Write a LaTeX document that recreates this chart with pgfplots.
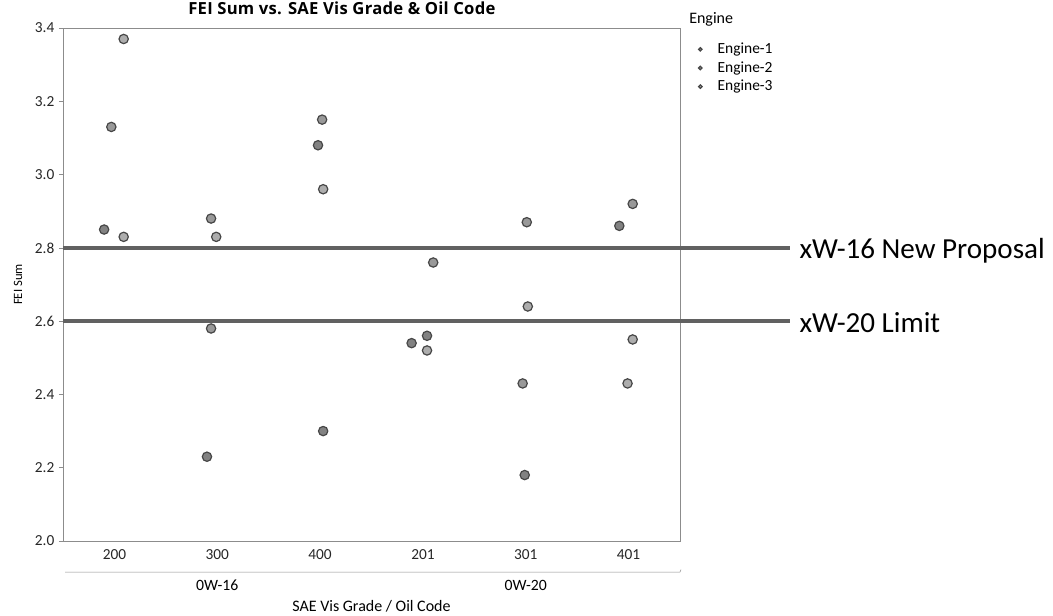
\documentclass[border=0pt]{standalone}
\usepackage{pgfplots}
\pgfplotsset{compat=1.18}
\usepackage{fontspec}
\setmainfont{Carlito}
\newfontfamily\titlefont[LetterSpace=1.5]{Open Sans}

\definecolor{ptfill}{gray}{0.60}
\definecolor{ptedge}{gray}{0.28}
\definecolor{limitline}{gray}{0.38}
\definecolor{frame}{gray}{0.55}

\begin{document}
\begin{tikzpicture}
% 1 px of the reference = 0.75pt
\useasboundingbox (-47.25pt,-55.5pt) rectangle (742.5pt,405.75pt);
\begin{axis}[
  scale only axis,
  width=462.75pt,
  height=384.75pt,
  xmin=-0.5,xmax=5.5,
  ymin=2.0,ymax=3.4,
  ytick={2.0,2.2,2.4,2.6,2.8,3.0,3.2,3.4},
  yticklabel style={/pgf/number format/.cd,fixed,fixed zerofill,precision=1},
  xtick={0,1,2,3,4,5},
  xticklabels={200,300,400,201,301,401},
  /pgf/number format/assume math mode=true,
  tick label style={font=\fontsize{11.5}{13}\selectfont,text=black!85},
  xtick style={draw=none},
  ytick style={draw=frame,thin},
  ytick pos=left,
  tick align=outside,
  major tick length=3pt,
  axis line style={draw=frame,thin},
  clip=false,
  title={\fontsize{12.5}{15}\selectfont\titlefont\bfseries FEI Sum vs. SAE Vis Grade \& Oil Code},
  title style={at={(axis description cs:0.452,1.022)},anchor=center},
  ylabel={FEI Sum},
  ylabel style={at={(axis description cs:-0.073,0.5)},anchor=center,
    font=\fontsize{9.5}{11}\selectfont},
  xlabel={SAE Vis Grade / Oil Code},
  xlabel style={at={(axis description cs:0.5,-0.127)},anchor=center,
    font=\fontsize{12}{14}\selectfont},
  legend style={at={(axis description cs:1.026,0.979)},anchor=north west,
    draw=none,fill=none,font=\fontsize{11.6}{14}\selectfont,
    row sep=0.5pt,inner sep=1pt},
  legend cell align=left,
  legend image code/.code={%
    \path[draw=none,fill=none] (0pt,0pt) -- (13pt,0pt);
    \draw[#1,mark size=1.3pt] plot coordinates {(2pt,0pt)};},
]
  \addplot[only marks,mark=*,mark size=3.5pt,
    mark options={fill=ptfill!85!black,draw=ptedge,line width=0.9pt}] coordinates {
    (-0.10,2.85) (0.90,2.23) (1.98,3.08) (2.03,2.30)
    (2.89,2.54) (3.04,2.56) (3.99,2.18) (4.91,2.86)
  };
  \addlegendentry{Engine-1}
  \addplot[only marks,mark=*,mark size=3.5pt,
    mark options={fill=ptfill,draw=ptedge,line width=0.9pt}] coordinates {
    (-0.03,3.13) (0.94,2.88) (0.94,2.58) (2.02,3.15)
    (3.10,2.76) (4.01,2.87) (3.97,2.43) (5.04,2.92)
  };
  \addlegendentry{Engine-2}
  \addplot[only marks,mark=*,mark size=3.5pt,
    mark options={fill=ptfill!80!white,draw=ptedge,line width=0.9pt}] coordinates {
    (0.09,3.37) (0.09,2.83) (0.99,2.83) (2.03,2.96)
    (3.04,2.52) (4.02,2.64) (5.04,2.55) (4.99,2.43)
  };
  \addlegendentry{Engine-3}

  % reference limits
  \addplot[limitline,line width=3.4pt,forget plot] coordinates {(-0.5,2.8) (6.57,2.8)};
  \addplot[limitline,line width=3.4pt,forget plot] coordinates {(-0.5,2.6) (6.57,2.6)};
  \node[anchor=base west,inner sep=0pt,font=\fontsize{21.8}{24}\selectfont]
    at (axis cs:6.66,2.770) {xW-16 New Proposal};
  \node[anchor=base west,inner sep=0pt,font=\fontsize{21.8}{24}\selectfont]
    at (axis cs:6.66,2.570) {xW-20 Limit};

  % legend header
  \node[anchor=west,inner sep=0pt,font=\fontsize{12}{14}\selectfont]
    at (axis description cs:1.0146,1.016) {Engine};

  % oil code grouping
  \draw[frame,thin] (axis cs:-0.48,1.915) -- (axis cs:5.5,1.915) -- (axis cs:5.51,1.922);
  \node[font=\fontsize{11.8}{13}\selectfont] at (axis cs:1,1.879) {0W-16};
  \node[font=\fontsize{11.8}{13}\selectfont] at (axis cs:4,1.879) {0W-20};
\end{axis}
\end{tikzpicture}
\end{document}
